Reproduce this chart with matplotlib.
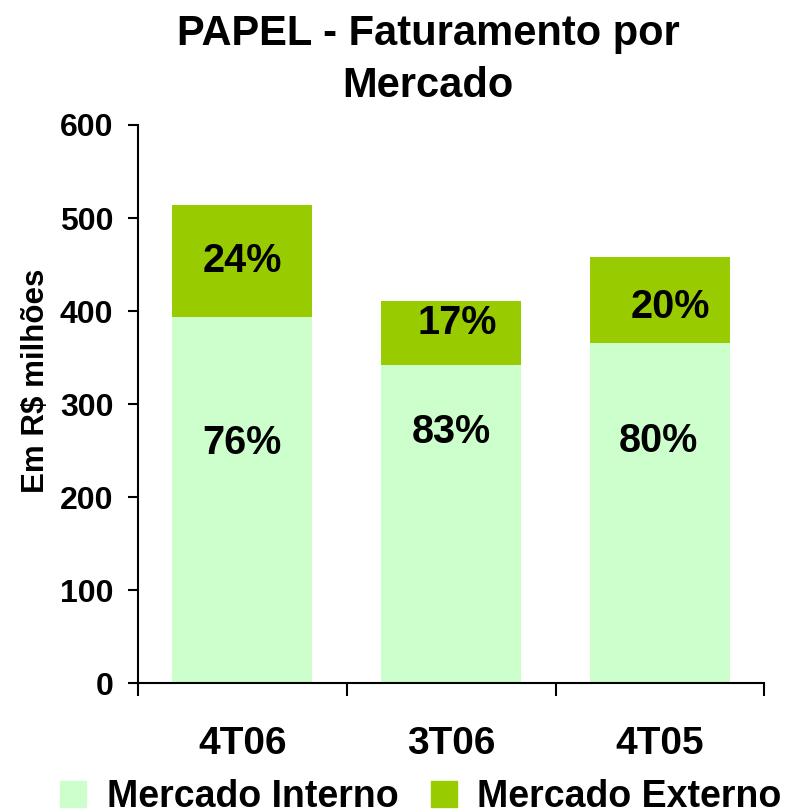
import matplotlib
matplotlib.use("Agg")
import matplotlib.pyplot as plt
from matplotlib.patches import Patch

plt.rcParams['font.family'] = ['Liberation Sans', 'DejaVu Sans']
plt.rcParams['font.weight'] = 'bold'

categories = ["4T06", "3T06", "4T05"]
interno = [394, 342, 366]
externo = [120, 69, 92]
pct_interno = ["76%", "83%", "80%"]
pct_externo = ["24%", "17%", "20%"]
yticks = [0, 100, 200, 300, 400, 500, 600]

c_int = "#CCFFCC"
c_ext = "#99CC00"

W, H = 797, 811
fig = plt.figure(figsize=(W / 100, H / 100), dpi=100)
ax = fig.add_axes([137.7 / W, 1 - 683.3 / H, (764.5 - 137.7) / W, (683.3 - 125) / H])

x = list(range(len(categories)))
ax.bar(x, interno, width=0.67, color=c_int, label="Mercado Interno", zorder=2)
ax.bar(x, externo, width=0.67, bottom=interno, color=c_ext, label="Mercado Externo", zorder=2)

ax.set_xlim(-0.5, 2.5)
ax.set_ylim(0, 600)
ax.set_yticks(yticks)
ax.set_yticklabels([str(v) for v in yticks], fontsize=23, fontweight='bold')
ax.tick_params(axis='y', length=7.5, width=1.5, pad=10)

ax.set_xticks(x)
ax.set_xticklabels(categories, fontsize=28, fontweight='bold')
ax.tick_params(axis='x', which='major', length=0, pad=31)
ax.set_xticks([-0.5, 0.5, 1.5, 2.5], minor=True)
ax.tick_params(axis='x', which='minor', length=9.5, width=1.5)

for s in ['top', 'right']:
    ax.spines[s].set_visible(False)
for s in ['left', 'bottom']:
    ax.spines[s].set_linewidth(1.5)

ax.set_ylabel("Em R$ milhões", fontsize=22.5, fontweight='bold')
ax.yaxis.set_label_coords((51 - 137.7) / 626.8, (683.3 - 381) / 558.3)

# percentage labels
ext_offsets = [(0.0, 0), (0.028, 11), (0.05, -8)]
int_ypos = [258, 270, 260]
for i in x:
    dx, dy = ext_offsets[i]
    ax.text(i + dx, interno[i] + externo[i] / 2 + dy, pct_externo[i], ha='center', va='center',
            fontsize=28.5, fontweight='bold')
    ax.text(i + (0.0 if i != 2 else -0.01), int_ypos[i], pct_interno[i], ha='center', va='center',
            fontsize=28.5, fontweight='bold')

fig.text(428 / W, 1 - 60 / H, "PAPEL - Faturamento por\nMercado", ha='center', va='center',
         fontsize=30, fontweight='bold', linespacing=1.38)

handles = [Patch(color=c_int), Patch(color=c_ext)]
fig.legend(handles, ["Mercado Interno", "Mercado Externo"], loc='lower left',
           bbox_to_anchor=(60 / W, -4 / H), ncol=2, frameon=False,
           handlelength=0.7, handleheight=0.7, handletextpad=0.55, columnspacing=0.85,
           borderpad=0, borderaxespad=0,
           prop={'weight': 'bold', 'size': 27})

fig.savefig("out.png", dpi=100)
